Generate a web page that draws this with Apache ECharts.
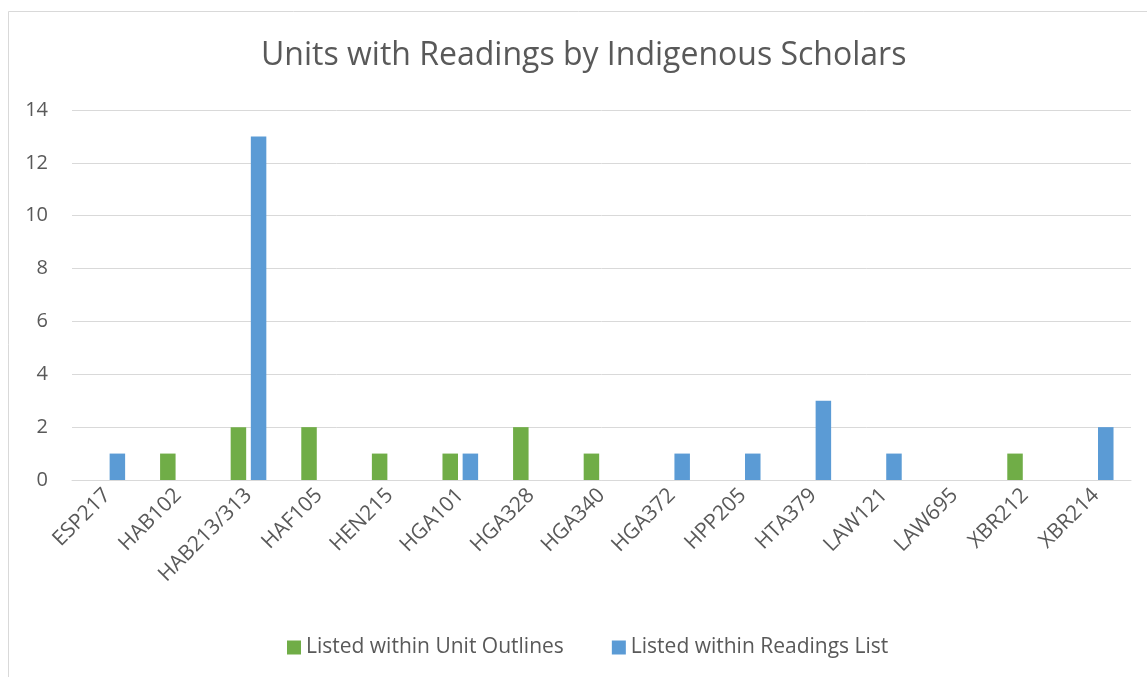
<!DOCTYPE html>
<html>
<head>
<meta charset="utf-8">
<script src="https://cdn.jsdelivr.net/npm/echarts@6/dist/echarts.min.js"></script>
<style>
html,body{margin:0;padding:0;background:#fff;}
#chart{width:1147px;height:677px;}
</style>
</head>
<body>
<div id="chart"></div>
<script>
const categories = ["ESP217","HAB102","HAB213/313","HAF105","HEN215","HGA101","HGA328","HGA340","HGA372","HPP205","HTA379","LAW121","LAW695","XBR212","XBR214"];
const unitOutlines = [0,1,2,2,1,1,2,1,0,0,0,0,0,1,0];
const readingsList = [1,0,13,0,0,1,0,0,1,1,3,1,0,0,2];
const seriesNames = ["Listed within Unit Outlines","Listed within Readings List"];
const titleText = "Units with Readings by Indigenous Scholars";

const chart = echarts.init(document.getElementById('chart'));
const font = "'Open Sans', sans-serif";
chart.setOption({
  animation: false,
  backgroundColor: '#fff',
  graphic: [{
    type: 'rect', silent: true,
    shape: {x: 8.5, y: 11.5, width: 1150, height: 680},
    style: {fill: 'none', stroke: '#d9d9d9', lineWidth: 1}
  }],
  title: {
    text: titleText, left: 256, top: 35,
    textStyle: {fontFamily: font, fontSize: 32, fontWeight: 'normal', color: '#595959'}
  },
  legend: {
    data: seriesNames, left: 282, top: 632, itemWidth: 14, itemHeight: 14, itemGap: 48,
    icon: 'rect',
    textStyle: {fontFamily: font, fontSize: 21, color: '#595959'}
  },
  grid: {left: 72, right: 16, top: 110, bottom: 197},
  xAxis: {
    type: 'category', data: categories,
    axisLine: {show: true, lineStyle: {color: '#d9d9d9', width: 1}},
    axisTick: {show: false},
    axisLabel: {rotate: 45, interval: 0, fontFamily: font, fontSize: 21, color: '#595959', margin: 12}
  },
  yAxis: {
    type: 'value', min: 0, max: 14, interval: 2,
    axisLine: {show: false}, axisTick: {show: false},
    splitLine: {lineStyle: {color: '#d9d9d9', width: 1}},
    axisLabel: {fontFamily: font, fontSize: 20, color: '#595959', margin: 24}
  },
  series: [
    {name: seriesNames[0], type: 'bar', data: unitOutlines, barWidth: 15.5, barGap: '30%', itemStyle: {color: '#70AD47'}},
    {name: seriesNames[1], type: 'bar', data: readingsList, barWidth: 15.5, barGap: '30%', itemStyle: {color: '#5B9BD5'}}
  ]
});
</script>
</body>
</html>
